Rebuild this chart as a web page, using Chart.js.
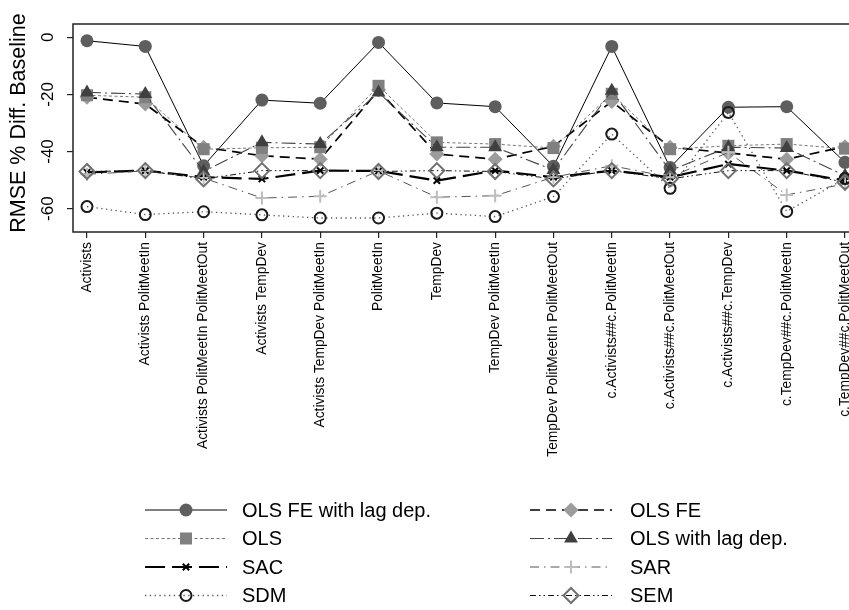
<!DOCTYPE html>
<html>
<head>
<meta charset="utf-8">
<script src="https://cdn.jsdelivr.net/npm/chart.js@4.4.1/dist/chart.umd.min.js"></script>
<style>
  html, body { margin: 0; padding: 0; background: #fff; overflow: hidden; }
  #wrap { width: 849px; height: 610px; overflow: hidden; position: relative; }
  canvas { display: block; }
</style>
</head>
<body>
<div id="wrap"><canvas id="c" width="870" height="610"></canvas></div>
<script>
// Model specifications on the x axis
const categories = [
  'Activists',
  'Activists PolitMeetIn',
  'Activists PolitMeetIn PolitMeetOut',
  'Activists TempDev',
  'Activists TempDev PolitMeetIn',
  'PolitMeetIn',
  'TempDev',
  'TempDev PolitMeetIn',
  'TempDev PolitMeetIn PolitMeetOut',
  'c.Activists##c.PolitMeetIn',
  'c.Activists##c.PolitMeetOut',
  'c.Activists##c.TempDev',
  'c.TempDev##c.PolitMeetIn',
  'c.TempDev##c.PolitMeetOut'
];

const yTicks = [0, -20, -40, -60];

const seriesNames = ['OLS FE with lag dep.', 'OLS FE', 'OLS', 'OLS with lag dep.', 'SAC', 'SAR', 'SDM', 'SEM'];

// RMSE % difference from baseline, one array per estimator
const olsFeLag = [-1.2, -3.2, -45.0, -22.0, -23.1, -1.8, -23.0, -24.3, -45.2, -3.2, -45.6, -24.5, -24.3, -43.8];
const olsFe    = [-21.0, -23.4, -38.5, -41.5, -42.7, -18.5, -40.9, -42.7, -38.2, -22.5, -38.5, -40.5, -42.7, -38.3];
const ols      = [-20.3, -21.0, -39.2, -38.7, -38.5, -17.0, -36.8, -37.4, -38.8, -19.8, -39.2, -38.0, -37.4, -39.0];
const olsLag   = [-19.3, -19.9, -47.0, -36.8, -37.4, -19.3, -38.5, -38.5, -46.5, -18.7, -46.7, -38.5, -38.8, -48.5];
const sac      = [-47.3, -46.7, -49.0, -49.6, -46.7, -46.8, -50.2, -46.7, -49.0, -46.7, -49.0, -44.4, -46.7, -50.2];
const sar      = [-48.0, -46.8, -49.3, -56.3, -55.7, -46.8, -56.0, -55.5, -49.0, -45.0, -49.0, -40.3, -55.2, -51.4];
const sdm      = [-59.3, -62.1, -61.1, -62.2, -63.3, -63.3, -61.6, -62.8, -55.8, -33.9, -52.9, -26.3, -61.0, -49.5];
const sem      = [-47.0, -46.7, -49.6, -46.7, -46.7, -47.0, -46.7, -47.0, -49.6, -46.7, -49.6, -46.7, -46.7, -50.8];

const seriesValues = [olsFeLag, olsFe, ols, olsLag, sac, sar, sdm, sem];

// Line and marker look for each estimator
const styles = [
  { line: '#000', width: 1,   dash: [],                     point: 'circle',   r: 6.5, fill: '#5e5e5e', stroke: '#5e5e5e', bw: 0 },
  { line: '#000', width: 1.7, dash: [10, 6],                point: 'rectRot',  r: 7.5, fill: '#9c9c9c', stroke: '#9c9c9c', bw: 0 },
  { line: '#777', width: 1,   dash: [3, 2.5],               point: 'rect',     r: 8.5, fill: '#808080', stroke: '#808080', bw: 0 },
  { line: '#444', width: 1.1, dash: [14, 4, 2, 4],          point: 'triangle', r: 8,   fill: '#404040', stroke: '#404040', bw: 0 },
  { line: '#000', width: 2.2, dash: [20, 7],                point: 'crossRot', r: 4.5, fill: '#000',    stroke: '#000',    bw: 2 },
  { line: '#555', width: 1,   dash: [9, 5, 1.5, 5],         point: 'cross',    r: 6.5, fill: '#bdbdbd', stroke: '#bdbdbd', bw: 2 },
  { line: '#555', width: 1.3, dash: [1.3, 3.5],             point: 'circle',   r: 5.5, fill: 'rgba(0,0,0,0)', stroke: '#1a1a1a', bw: 2 },
  { line: '#111', width: 1,   dash: [6, 3, 1.5, 3, 1.5, 3], point: 'rectRot',  r: 7.5, fill: 'rgba(0,0,0,0)', stroke: '#707070', bw: 2 }
];

const FONT = '"Liberation Sans", Arial, Helvetica, sans-serif';
Chart.defaults.font.family = FONT;
Chart.defaults.color = '#000';

const datasets = seriesNames.map((name, i) => {
  const s = styles[i];
  return {
    label: name,
    data: seriesValues[i].map((v, k) => ({ x: k, y: v })),
    borderColor: s.line,
    borderWidth: s.width,
    borderDash: s.dash,
    pointStyle: s.point,
    pointRadius: s.r,
    pointHoverRadius: s.r,
    pointBackgroundColor: s.fill,
    pointBorderColor: s.stroke,
    pointBorderWidth: s.bw,
    tension: 0,
    fill: false,
    order: seriesNames.length - i
  };
});

function markerAt(ctx, s, x, y) {
  ctx.save();
  ctx.setLineDash([]);
  ctx.fillStyle = s.fill;
  ctx.strokeStyle = s.stroke;
  ctx.lineWidth = s.bw;
  Chart.helpers.drawPoint(ctx, { pointStyle: s.point, rotation: 0, radius: s.r, borderWidth: s.bw }, x, y);
  ctx.restore();
}

const decorations = {
  id: 'decorations',
  beforeDatasetsDraw(chart) {
    const { ctx, chartArea: a } = chart;
    ctx.save();
    ctx.strokeStyle = '#222';
    ctx.lineWidth = 1.5;
    ctx.beginPath();
    ctx.moveTo(chart.width, a.top);
    ctx.lineTo(a.left, a.top);
    ctx.lineTo(a.left, a.bottom);
    ctx.lineTo(chart.width, a.bottom);
    ctx.stroke();
    ctx.restore();
  },
  afterDraw(chart) {
    const { ctx, chartArea: a } = chart;
    const yScale = chart.scales.y;

    // Axis title and rotated tick labels
    ctx.save();
    ctx.fillStyle = '#000';
    ctx.textAlign = 'center';
    ctx.textBaseline = 'middle';
    ctx.font = '21.5px ' + FONT;
    ctx.save();
    ctx.translate(19, (a.top + a.bottom) / 2 - 5);
    ctx.rotate(-Math.PI / 2);
    ctx.fillText('RMSE % Diff. Baseline', 0, 0);
    ctx.restore();
    ctx.font = '17px ' + FONT;
    yTicks.forEach(v => {
      ctx.save();
      ctx.translate(48, yScale.getPixelForValue(v));
      ctx.rotate(-Math.PI / 2);
      ctx.fillText(String(v), 0, 0);
      ctx.restore();
    });
    ctx.restore();

    // Legend: two columns, line sample with marker in the middle
    ctx.save();
    ctx.font = '20px ' + FONT;
    ctx.textBaseline = 'middle';
    ctx.textAlign = 'left';
    seriesNames.forEach((name, i) => {
      const s = styles[i];
      const col = i % 2, row = Math.floor(i / 2);
      const x0 = col ? 530 : 145;
      const y = 510 + row * 28.5;
      ctx.save();
      ctx.strokeStyle = s.line;
      ctx.lineWidth = s.width;
      ctx.setLineDash(s.dash);
      ctx.beginPath();
      ctx.moveTo(x0, y);
      ctx.lineTo(x0 + 82, y);
      ctx.stroke();
      ctx.restore();
      markerAt(ctx, s, x0 + 41, y);
      ctx.fillStyle = '#000';
      ctx.fillText(name, col ? 630 : 242, y + 1);
    });
    ctx.restore();
  }
};

new Chart(document.getElementById('c'), {
  type: 'line',
  data: { datasets },
  plugins: [decorations],
  options: {
    responsive: false,
    animation: false,
    devicePixelRatio: 1,
    events: [],
    layout: { padding: { top: 24, right: 11, left: 0, bottom: 0 } },
    plugins: { legend: { display: false }, tooltip: { enabled: false } },
    scales: {
      x: {
        type: 'linear',
        min: -0.24,
        max: 13.24,
        afterBuildTicks: s => { s.ticks = categories.map((_, i) => ({ value: i })); },
        afterFit: s => { s.height = 378; },
        grid: { drawOnChartArea: false, drawTicks: true, tickLength: 6, color: '#222', lineWidth: 1.2 },
        border: { display: false },
        ticks: {
          autoSkip: false,
          minRotation: 90,
          maxRotation: 90,
          padding: 4,
          color: '#000',
          font: { size: 13.8 },
          callback: v => categories[v] ?? ''
        }
      },
      y: {
        type: 'linear',
        min: -68.2,
        max: 4.66,
        afterBuildTicks: s => { s.ticks = yTicks.map(v => ({ value: v })); },
        afterFit: s => { s.width = 73; },
        grid: { drawOnChartArea: false, drawTicks: true, tickLength: 6, color: '#222', lineWidth: 1.2 },
        border: { display: false },
        ticks: { display: false }
      }
    }
  }
});
</script>
</body>
</html>
